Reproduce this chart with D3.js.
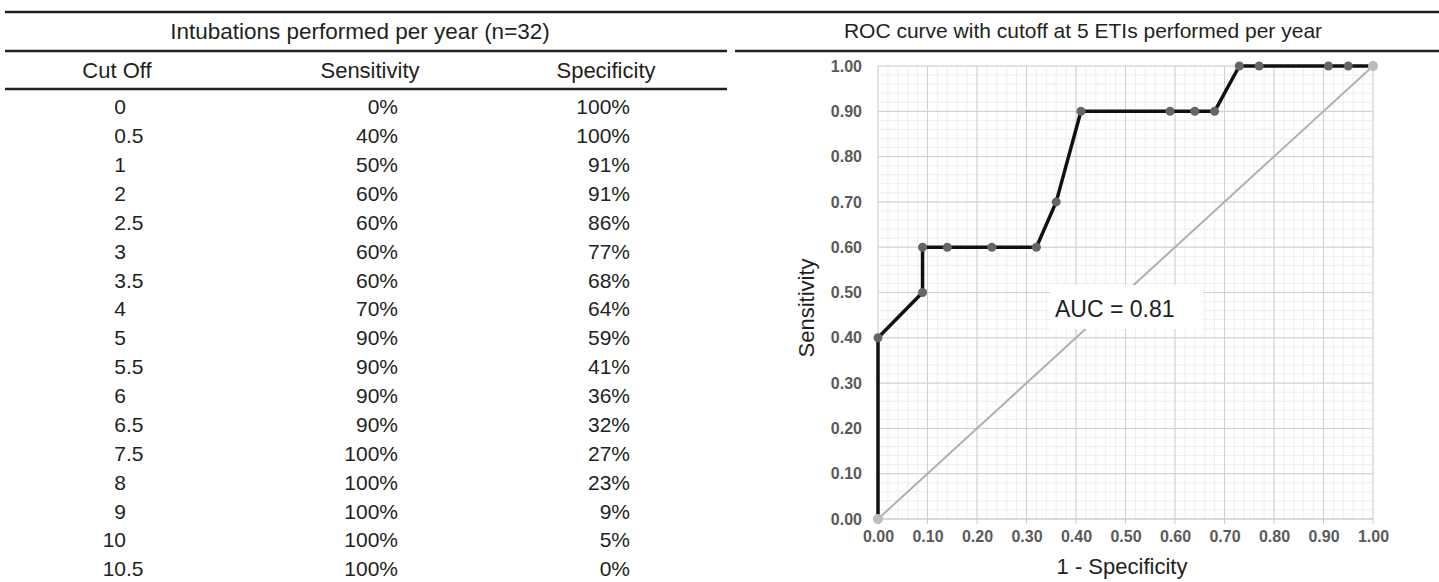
<!DOCTYPE html>
<html lang="en">
<head>
<meta charset="utf-8">
<title>Intubations ROC</title>
<script src="https://cdn.jsdelivr.net/npm/d3@7/dist/d3.min.js"></script>
<style>
    body { margin: 0; background: #fff; }
    svg text { font-family: "Liberation Sans", Arial, sans-serif; }
</style>
</head>
<body>
<script>
// table data
var cutOffs = [0, 0.5, 1, 2, 2.5, 3, 3.5, 4, 5, 5.5, 6, 6.5, 7.5, 8, 9, 10, 10.5];
var sensitivity = [0, 40, 50, 60, 60, 60, 60, 70, 90, 90, 90, 90, 100, 100, 100, 100, 100];
var specificity = [100, 100, 91, 91, 86, 77, 68, 64, 59, 41, 36, 32, 27, 23, 9, 5, 0];
var tableTitle = "Intubations performed per year (n=32)";
var columnHeads = ["Cut Off", "Sensitivity", "Specificity"];

// chart texts / ticks
var chartTitle = "ROC curve with cutoff at 5 ETIs performed per year";
var axisTicks = [0, 0.1, 0.2, 0.3, 0.4, 0.5, 0.6, 0.7, 0.8, 0.9, 1.0];
var diagonal = [0, 1];
var aucText = "AUC = 0.81";
var xTitle = "1 - Specificity";
var yTitle = "Sensitivity";

var w = 1439, h = 582;
var ink = "#231f20";

var svg = d3.select("body").append("svg").attr("width", w).attr("height", h);

// ---------- rules ----------
function rule(x1, x2, y) {
    svg.append("line").attr("x1", x1).attr("x2", x2).attr("y1", y).attr("y2", y)
        .attr("stroke", ink).attr("stroke-width", 2.5);
}
rule(5, w, 12);
rule(5, 727, 51);
rule(735, w, 51);
rule(5, 727, 89);

// ---------- table ----------
svg.append("text").attr("x", 360).attr("y", 31).attr("dy", "0.35em")
    .attr("text-anchor", "middle").attr("font-size", "22.5px").attr("fill", ink)
    .text(tableTitle);

var headX = [117, 370, 606];
svg.selectAll("text.head").data(columnHeads).enter().append("text")
    .attr("class", "head")
    .attr("x", function(d, i) { return headX[i]; })
    .attr("y", 70).attr("dy", "0.35em")
    .attr("text-anchor", "middle").attr("font-size", "22px").attr("fill", ink)
    .text(function(d) { return d; });

var rowY = d3.scaleLinear().domain([0, cutOffs.length - 1]).range([107, 569]);
var decimalX = 126;

var rows = svg.selectAll("g.row").data(cutOffs).enter().append("g").attr("class", "row")
    .attr("transform", function(d, i) { return "translate(0," + rowY(i) + ")"; })
    .attr("font-size", "21px").attr("fill", ink);

// cut off: aligned on the decimal point
rows.append("text").attr("x", decimalX).attr("dy", "0.35em").attr("text-anchor", "end")
    .text(function(d) { return String(d).split(".")[0]; });
rows.append("text").attr("x", decimalX).attr("dy", "0.35em").attr("text-anchor", "start")
    .text(function(d) { var p = String(d).split("."); return p.length > 1 ? "." + p[1] : ""; });
rows.append("text").attr("x", 398).attr("dy", "0.35em").attr("text-anchor", "end")
    .text(function(d, i) { return sensitivity[i] + "%"; });
rows.append("text").attr("x", 630).attr("dy", "0.35em").attr("text-anchor", "end")
    .text(function(d, i) { return specificity[i] + "%"; });

// ---------- ROC chart ----------
svg.append("text").attr("x", 1083).attr("y", 31).attr("dy", "0.35em")
    .attr("text-anchor", "middle").attr("font-size", "21px").attr("fill", ink)
    .text(chartTitle);

var xScale = d3.scaleLinear().domain([0, 1]).range([878, 1373]);
var yScale = d3.scaleLinear().domain([0, 1]).range([519, 66]);

var grid = svg.append("g");
var minor = d3.range(0, 1.0001, 0.02);
grid.selectAll("line.mx").data(minor).enter().append("line")
    .attr("x1", function(d) { return xScale(d); }).attr("x2", function(d) { return xScale(d); })
    .attr("y1", yScale(0)).attr("y2", yScale(1))
    .attr("stroke", "#eeeeee").attr("stroke-width", 1);
grid.selectAll("line.my").data(minor).enter().append("line")
    .attr("y1", function(d) { return yScale(d); }).attr("y2", function(d) { return yScale(d); })
    .attr("x1", xScale(0)).attr("x2", xScale(1))
    .attr("stroke", "#eeeeee").attr("stroke-width", 1);
grid.selectAll("line.gx").data(axisTicks).enter().append("line")
    .attr("x1", function(d) { return xScale(d); }).attr("x2", function(d) { return xScale(d); })
    .attr("y1", yScale(0) + 5).attr("y2", yScale(1))
    .attr("stroke", "#cfcfcf").attr("stroke-width", 1);
grid.selectAll("line.gy").data(axisTicks).enter().append("line")
    .attr("y1", function(d) { return yScale(d); }).attr("y2", function(d) { return yScale(d); })
    .attr("x1", xScale(0)).attr("x2", xScale(1))
    .attr("stroke", function(d) { return d === 0 ? "#bbbbbb" : "#cfcfcf"; }).attr("stroke-width", 1);

// axes (labels only)
var xAxis = d3.axisBottom(xScale).tickValues(axisTicks).tickFormat(d3.format(".2f")).tickSize(0).tickPadding(12);
var yAxis = d3.axisLeft(yScale).tickValues(axisTicks).tickFormat(d3.format(".2f")).tickSize(0).tickPadding(16);

var gx = svg.append("g").attr("transform", "translate(0," + yScale(0) + ")").call(xAxis);
var gy = svg.append("g").attr("transform", "translate(" + xScale(0) + ",0)").call(yAxis);
[gx, gy].forEach(function(g) {
    g.select(".domain").remove();
    g.selectAll("text").attr("font-size", "16px").attr("font-weight", "bold").attr("fill", "#5a5a5a")
        .attr("font-family", "\"Liberation Sans\", Arial, sans-serif");
});

// diagonal reference
svg.append("line")
    .attr("x1", xScale(diagonal[0])).attr("y1", yScale(diagonal[0]))
    .attr("x2", xScale(diagonal[1])).attr("y2", yScale(diagonal[1]))
    .attr("stroke", "#b0b0b0").attr("stroke-width", 2);

// ROC curve
var points = specificity.map(function(s, i) { return [1 - s / 100, sensitivity[i] / 100]; });
var line = d3.line().x(function(d) { return xScale(d[0]); }).y(function(d) { return yScale(d[1]); });

svg.append("path").datum(points).attr("d", line)
    .attr("fill", "none").attr("stroke", "#111").attr("stroke-width", 3.5).attr("stroke-linejoin", "round");

svg.selectAll("circle.roc").data(points).enter().append("circle")
    .attr("cx", function(d) { return xScale(d[0]); })
    .attr("cy", function(d) { return yScale(d[1]); })
    .attr("r", 4.5).attr("fill", "#666");

svg.selectAll("circle.diag").data(diagonal).enter().append("circle")
    .attr("cx", function(d) { return xScale(d); })
    .attr("cy", function(d) { return yScale(d); })
    .attr("r", 5).attr("fill", "#bdbdbd");

// AUC label on a white box (hides grid and diagonal)
svg.append("rect").attr("x", 1050).attr("y", 285).attr("width", 153).attr("height", 44).attr("fill", "#fff");
svg.append("text").attr("x", 1055).attr("y", 309).attr("dy", "0.35em")
    .attr("font-size", "23px").attr("fill", ink).text(aucText);

// axis titles
svg.append("text").attr("x", 1122).attr("y", 566).attr("dy", "0.35em")
    .attr("text-anchor", "middle").attr("font-size", "22px").attr("fill", ink).text(xTitle);
svg.append("text").attr("transform", "translate(806,308) rotate(-90)").attr("dy", "0.35em")
    .attr("text-anchor", "middle").attr("font-size", "22px").attr("fill", ink).text(yTitle);
</script>
</body>
</html>
